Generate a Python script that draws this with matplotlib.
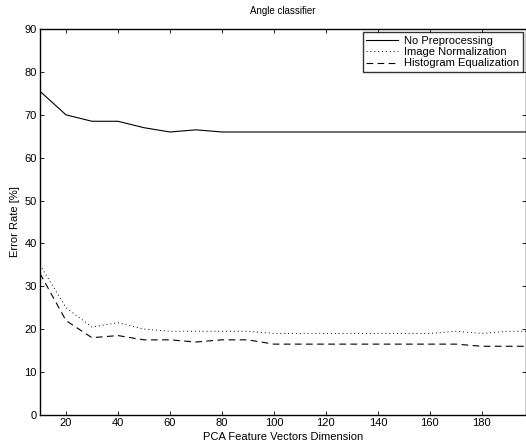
import matplotlib
matplotlib.use("Agg")
import matplotlib.pyplot as plt

dims = [10, 20, 30, 40, 50, 60, 70, 80, 90, 100, 110, 120, 130, 140, 150, 160, 170, 180, 190, 200]
no_pre = [75.5, 70, 68.5, 68.5, 67, 66, 66.5, 66, 66, 66, 66, 66, 66, 66, 66, 66, 66, 66, 66, 66]
img_norm = [35, 25, 20.5, 21.5, 20, 19.5, 19.5, 19.5, 19.5, 19, 19, 19, 19, 19, 19, 19, 19.5, 19, 19.5, 19.5]
hist_eq = [33, 22, 18, 18.5, 17.5, 17.5, 17, 17.5, 17.5, 16.5, 16.5, 16.5, 16.5, 16.5, 16.5, 16.5, 16.5, 16, 16, 16]

plt.rcParams['font.family'] = ['Liberation Sans', 'DejaVu Sans']

fig = plt.figure(figsize=(5.26, 4.48), dpi=100)
ax = fig.add_axes([0.076, 0.074, 0.924, 0.861])

ax.plot(dims, no_pre, color='black', linestyle='-', linewidth=0.8, label='No Preprocessing')
ax.plot(dims, img_norm, color='black', linestyle=(0, (1, 3)), linewidth=0.7, label='Image Normalization')
ax.plot(dims, hist_eq, color='black', linestyle=(0, (6, 4)), linewidth=0.8, label='Histogram Equalization')

ax.set_xlim(10, 197)
ax.set_ylim(0, 90)
ax.set_xticks(range(20, 181, 20))
ax.set_yticks(range(0, 91, 10))
ax.tick_params(direction='in', top=True, right=True, labelsize=8, length=3, width=0.6, pad=2.5)
for s in ax.spines.values():
    s.set_linewidth(1.0)

ax.set_title('Angle classifier', fontsize=7, pad=11)
ax.set_xlabel('PCA Feature Vectors Dimension', fontsize=8, labelpad=3)
ax.set_ylabel('Error Rate [%]', fontsize=8, labelpad=3)

leg = ax.legend(loc='upper right', fontsize=8, frameon=True, fancybox=False,
                edgecolor='black', handlelength=2.8, borderaxespad=0.3,
                borderpad=0.3, labelspacing=0.12, handletextpad=0.6)
leg.get_frame().set_linewidth(1.0)

fig.savefig('out.png', dpi=100)
